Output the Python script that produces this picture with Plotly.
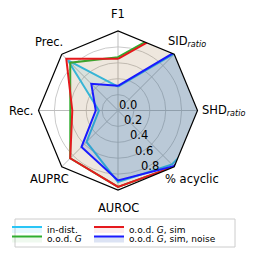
import math
import plotly.graph_objects as go

# ---------------- data ----------------
categories = ['F1', 'SID<sub><i>ratio</i></sub>', 'SHD<sub><i>ratio</i></sub>', '% acyclic',
              'AUROC', 'AUPRC', 'Rec.', 'Prec.']
in_dist = [0.30, 1.03, 1.35, 0.96, 0.90, 0.56, 0.24, 0.89]
ood_g = [0.67, 2.15, 1.60, 1.00, 0.96, 0.85, 0.60, 0.85]
ood_g_sim = [0.65, 2.10, 1.60, 1.00, 0.96, 0.85, 0.575, 0.92]
ood_g_sim_noise = [0.31, 1.08, 1.40, 0.99, 0.88, 0.65, 0.28, 0.475]

series_names = ['in-dist.', 'o.o.d. <i>G</i>', 'o.o.d. <i>G</i>, sim', 'o.o.d. <i>G</i>, sim, noise']
series_values = [in_dist, ood_g, ood_g_sim, ood_g_sim_noise]

radial_ticks = [0.0, 0.2, 0.4, 0.6, 0.8]
radial_ticktext = ['0.0', '0.2', '0.4', '0.6', '0.8']

# ---------------- styles ----------------
line_colors = ['#29c5f6', '#2fae2f', '#e5191d', '#1a1aff']
fill_colors = ['rgba(41,197,246,0.12)', 'rgba(47,174,47,0.08)',
               'rgba(229,25,29,0.08)', 'rgba(20,70,180,0.15)']
legend_ids = ['legend', 'legend2', 'legend3', 'legend4']
legend_pos = [(7, 214.5), (7, 224), (89, 214.5), (89, 224)]   # px (left, top)

W, H = 254, 256
cx, cy, R = 118, 110.5, 79.5
dom_x = [(cx - R) / W, (cx + R) / W]
dom_y = [1 - (cy + R) / H, 1 - (cy - R) / H]
FONT = 'DejaVu Sans'
GRID = '#bdbdbd'


def px(x, y):
    return x / W, 1 - y / H


fig = go.Figure()
for name, vals, lc, fc, lg in zip(series_names, series_values, line_colors,
                                  fill_colors, legend_ids):
    fig.add_trace(go.Scatterpolar(
        r=vals + [vals[0]], theta=categories + [categories[0]],
        mode='lines', fill='toself', fillcolor=fc,
        line=dict(color=lc, width=2), name=name,
        legend=lg, hoverinfo='skip'))

shapes = []
for r in radial_ticks[1:]:
    x0, y1 = px(cx - r * R, cy - r * R)
    x1, y0 = px(cx + r * R, cy + r * R)
    shapes.append(dict(type='circle', xref='paper', yref='paper',
                       x0=x0, x1=x1, y0=y0, y1=y1,
                       line=dict(color=GRID, width=0.8), layer='below'))
# legend frame
lx0, ly1 = px(15, 219)
lx1, ly0 = px(235, 247)
shapes.append(dict(type='rect', xref='paper', yref='paper',
                   x0=lx0, x1=lx1, y0=ly0, y1=ly1,
                   line=dict(color='#cccccc', width=1), fillcolor='white', layer='below'))

annotations = []
# category labels (matplotlib-like placement around the frame)
label_r = 97
label_dx = {2: 8, 3: 5}
for i, cat in enumerate(categories):
    a = math.radians(90 - i * 360 / len(categories))
    x = cx + label_r * math.cos(a) + label_dx.get(i, 0)
    y = cy - label_r * math.sin(a)
    ax_, ay_ = px(x, y)
    annotations.append(dict(text=cat, x=ax_, y=ay_, xref='paper', yref='paper',
                            xanchor='center', yanchor='middle', showarrow=False,
                            font=dict(family=FONT, size=11.5, color='black')))
# radial tick labels along a ray pointing down-right
ra = math.radians(70.5)
for v, t in zip(radial_ticks, radial_ticktext):
    x = cx + 10 + v * R * 1.03 * math.cos(ra)
    y = cy - 6 + v * R * 1.03 * math.sin(ra)
    ax_, ay_ = px(x, y)
    annotations.append(dict(text=t, x=ax_, y=ay_, xref='paper', yref='paper',
                            xanchor='center', yanchor='middle', showarrow=False,
                            font=dict(family=FONT, size=11.5, color='black')))

legend_common = dict(orientation='h', xanchor='left', yanchor='top',
                     font=dict(family=FONT, size=9, color='black'),
                     bgcolor='rgba(0,0,0,0)', borderwidth=0, itemwidth=30,
                     itemclick=False, itemdoubleclick=False)
legends = {}
for lg, (lx, ly) in zip(legend_ids, legend_pos):
    x, y = px(lx, ly)
    legends[lg] = dict(x=x, y=y, **legend_common)

fig.update_layout(
    width=W, height=H,
    margin=dict(l=0, r=0, t=0, b=0),
    paper_bgcolor='white',
    font=dict(family=FONT, size=11.5, color='black'),
    showlegend=True,
    shapes=shapes,
    annotations=annotations,
    polar=dict(
        domain=dict(x=dom_x, y=dom_y),
        bgcolor='rgba(0,0,0,0)',
        gridshape='linear',
        angularaxis=dict(type='category', categoryarray=categories,
                         direction='clockwise', rotation=90,
                         showline=True, linecolor='black', linewidth=1.2,
                         showgrid=True, gridcolor=GRID, gridwidth=0.8,
                         ticks='', showticklabels=False),
        radialaxis=dict(range=[0, 1], showgrid=False, showline=False, ticks='',
                        showticklabels=False),
    ),
    **legends,
)

fig.write_html('out.html', config={'displayModeBar': False},
               post_script="document.body.style.margin='0';")
